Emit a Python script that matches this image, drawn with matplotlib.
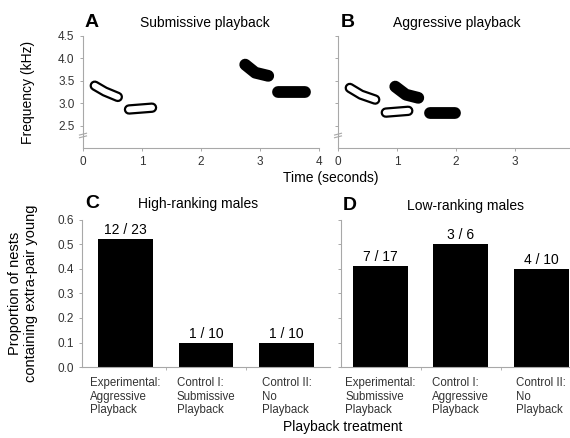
import matplotlib.pyplot as plt
import numpy as np

plt.rcParams['font.family'] = ['Liberation Sans', 'DejaVu Sans']

GRAY = '#a8a8a8'
TXT = '#333333'

# syllable centre lines (time s, frequency kHz)
sub_syll_t = [[0.20, 0.37, 0.59], [0.78, 1.17]]
sub_syll_f = [[3.39, 3.26, 3.14], [2.86, 2.90]]
agg_syll_t = [[2.75, 2.92, 3.14], [3.31, 3.76]]
agg_syll_f = [[3.86, 3.68, 3.61], [3.26, 3.26]]

b_syll_t = [[0.20, 0.39, 0.63], [0.81, 1.19], [0.97, 1.15, 1.36], [1.56, 1.98]]
b_syll_f = [[3.34, 3.19, 3.08], [2.79, 2.83], [3.37, 3.19, 3.12], [2.79, 2.79]]
b_fill = [False, False, True, True]

a_fill = [False, False, True, True]
a_syll_t = sub_syll_t + agg_syll_t
a_syll_f = sub_syll_f + agg_syll_f

freq_ticks = [2.5, 3.0, 3.5, 4.0, 4.5]

treat_high = ['Experimental:\nAggressive\nPlayback', 'Control I:\nSubmissive\nPlayback',
              'Control II:\nNo\nPlayback']
prop_high = [12 / 23, 1 / 10, 1 / 10]
count_high = ['12 / 23', '1 / 10', '1 / 10']

treat_low = ['Experimental:\nSubmissive\nPlayback', 'Control I:\nAggressive\nPlayback',
             'Control II:\nNo\nPlayback']
prop_low = [7 / 17, 3 / 6, 4 / 10]
count_low = ['7 / 17', '3 / 6', '4 / 10']

fig = plt.figure(figsize=(5.7, 4.38), dpi=100)


def style_axes(ax):
    for s in ['top', 'right']:
        ax.spines[s].set_visible(False)
    for s in ['left', 'bottom']:
        ax.spines[s].set_color(GRAY)
        ax.spines[s].set_linewidth(0.8)
    ax.tick_params(colors=GRAY, labelcolor=TXT, labelsize=8.5, length=2.5, width=0.7)


def draw_song(ax, ts, fs, fills):
    for t, f, filled in zip(ts, fs, fills):
        if filled:
            ax.plot(t, f, color='black', lw=8.5, solid_capstyle='round', solid_joinstyle='round')
        else:
            ax.plot(t, f, color='black', lw=7.5, solid_capstyle='round', solid_joinstyle='round')
            ax.plot(t, f, color='white', lw=4.3, solid_capstyle='round', solid_joinstyle='round')


def break_marks(ax):
    for y0 in [2.25, 2.31]:
        ax.plot([-0.015, 0.015], [y0 - 0.02, y0 + 0.02], color=GRAY, lw=0.8,
                transform=ax.get_yaxis_transform(), clip_on=False)


# panel A
axA = fig.add_axes([0.1456, 0.662, 0.414, 0.256])
style_axes(axA)
draw_song(axA, a_syll_t, a_syll_f, a_fill)
axA.set_xlim(0, 4)
axA.set_ylim(2.0, 4.5)
axA.set_yticks(freq_ticks)
axA.set_yticklabels([f'{v:.1f}' for v in freq_ticks])
axA.set_xticks([0, 1, 2, 3, 4])
axA.set_ylabel('Frequency (kHz)', fontsize=10, labelpad=17)
break_marks(axA)
fig.text(0.149, 0.948, 'A', fontsize=14, fontweight='bold', va='center')
fig.text(0.36, 0.948, 'Submissive playback', fontsize=10, ha='center', va='center')

# panel B
axB = fig.add_axes([0.593, 0.662, 0.407, 0.256])
style_axes(axB)
draw_song(axB, b_syll_t, b_syll_f, b_fill)
axB.set_xlim(0, 3.93)
axB.set_ylim(2.0, 4.5)
axB.set_yticks(freq_ticks)
axB.set_yticklabels([])
axB.set_xticks([0, 1, 2, 3])
break_marks(axB)
fig.text(0.598, 0.948, 'B', fontsize=14, fontweight='bold', va='center')
fig.text(0.802, 0.948, 'Aggressive playback', fontsize=10, ha='center', va='center')

fig.text(0.581, 0.594, 'Time (seconds)', fontsize=10, ha='center', va='center')


def bar_panel(ax, props, counts, labels, xlim):
    style_axes(ax)
    x = np.arange(len(props))
    ax.bar(x, props, width=0.68, color='black')
    for xi, p, c in zip(x, props, counts):
        ax.text(xi, p + 0.008, c, ha='center', va='bottom', fontsize=10, color='black')
    ax.set_xlim(*xlim)
    ax.set_ylim(0, 0.6)
    ax.set_yticks([0.0, 0.1, 0.2, 0.3, 0.4, 0.5, 0.6])
    ax.set_xticks(x)
    ax.set_xticklabels(labels, multialignment='left', fontsize=8.3, linespacing=1.2)
    ax.tick_params(axis='x', length=0, pad=7)
    ax.set_xticks([0.5, 1.5], minor=True)
    ax.tick_params(axis='x', which='minor', length=2.5, color=GRAY)


# panel C
axC = fig.add_axes([0.1439, 0.162, 0.435, 0.336])
bar_panel(axC, prop_high, count_high, treat_high, (-0.54, 2.54))
axC.set_yticklabels([f'{v:.1f}' for v in axC.get_yticks()])
axC.set_ylabel('Proportion of nests\ncontaining extra-pair young', fontsize=10.5,
               labelpad=14, linespacing=1.2)
fig.text(0.149, 0.535, 'C', fontsize=14, fontweight='bold', va='center')
fig.text(0.348, 0.535, 'High-ranking males', fontsize=10, ha='center', va='center')

# panel D
axD = fig.add_axes([0.598, 0.162, 0.402, 0.336])
bar_panel(axD, prop_low, count_low, treat_low, (-0.49, 2.355))
axD.set_yticklabels([])
fig.text(0.602, 0.53, 'D', fontsize=14, fontweight='bold', va='center')
fig.text(0.816, 0.53, 'Low-ranking males', fontsize=10, ha='center', va='center')

fig.text(0.602, 0.024, 'Playback treatment', fontsize=10, ha='center', va='center')

fig.savefig('out.png', dpi=100)
